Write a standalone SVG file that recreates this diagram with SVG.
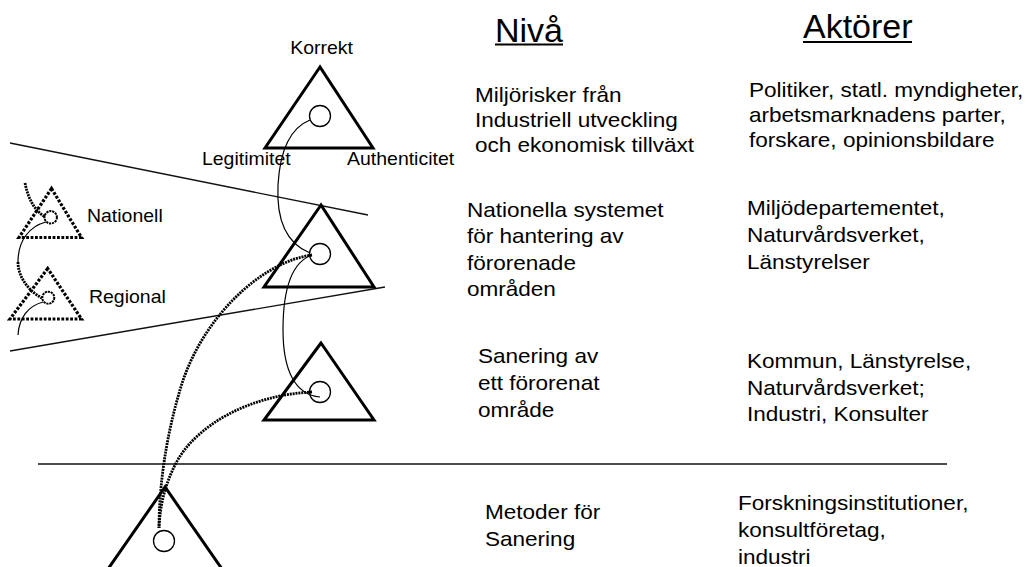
<svg xmlns="http://www.w3.org/2000/svg" width="1029" height="567" viewBox="0 0 1029 567">
  <style>
    .tri { fill: none; stroke: #000; stroke-width: 3; stroke-linejoin: miter; }
    .tri-dot { fill: none; stroke: #000; stroke-width: 3.2; stroke-dasharray: 2.8 1.6; }
    .ring { fill: #fff; stroke: #000; stroke-width: 1.3; }
    .ring-dot { fill: #fff; stroke: #000; stroke-width: 2; stroke-dasharray: 2.2 0.8; }
    .thin { fill: none; stroke: #000; stroke-width: 1.2; }
    .dots { fill: none; stroke: #000; stroke-width: 2.8; stroke-dasharray: 2 0.9; }
    .rule { fill: none; stroke: #111; stroke-width: 1.3; }
    .t { font-family: "Liberation Sans", Arial, sans-serif; fill: #000; }
    .body { font-size: 20.5px; }
    .small { font-size: 17.7px; }
    .head { font-family: "Liberation Sans", Arial, sans-serif; font-size: 34px; fill: #000; }
  </style>

  <!-- level boundaries -->
  <g id="rules">
    <line class="rule" x1="10" y1="143" x2="368" y2="215"/>
    <line class="rule" x1="10" y1="351" x2="385" y2="287"/>
    <line class="rule" x1="38" y1="464" x2="947" y2="464"/>
  </g>

  <!-- headings -->
  <g id="headings">
    <text class="head" x="495" y="41.5">Nivå</text>
    <line x1="495" y1="44.5" x2="563" y2="44.5" stroke="#000" stroke-width="2"/>
    <text class="head" x="803" y="38">Aktörer</text>
    <line x1="803" y1="42" x2="912" y2="42" stroke="#000" stroke-width="2"/>
  </g>

  <!-- triangles -->
  <g id="node-top">
    <polygon class="tri" points="320,67 265,148 373,148"/>
    <circle class="ring" cx="320" cy="116" r="10.5"/>
  </g>
  <g id="node-national">
    <polygon class="tri" points="321,205 264,287 374,287"/>
    <circle class="ring" cx="320" cy="254" r="10.5"/>
  </g>
  <g id="node-site">
    <polygon class="tri" points="321,343 264,420 374,420"/>
    <circle class="ring" cx="320" cy="392" r="10.5"/>
  </g>
  <g id="node-methods">
    <polygon class="tri" points="165,487 108,569 222,569"/>
    <circle class="ring" cx="164" cy="541" r="10.5"/>
  </g>
  <g id="node-nationell">
    <polygon class="tri-dot" points="51.5,188.5 19,237.5 81.5,237.5"/>
    <circle class="ring-dot" cx="50.7" cy="217.3" r="6.2"/>
  </g>
  <g id="node-regional">
    <polygon class="tri-dot" points="47.7,268.5 10,319 81.5,319"/>
    <circle class="ring-dot" cx="48.3" cy="297.7" r="6"/>
  </g>

  <!-- connectors -->
  <g id="connectors">
    <path class="thin" d="M310,120 C290,128 280,150 278,185 C276,225 290,245 310,253"/>
    <path class="thin" d="M312,255 C292,262 283,290 283,330 C283,370 295,395 320,397"/>
    <path class="dots" d="M312,255 C260,262 200,320 180,390 C165,440 159,490 159,528"/>
    <path class="dots" d="M312,392 C250,395 195,425 175,465 C165,485 160,505 159,528"/>
    <path class="dots" d="M25,183 C28,198 34,210 45,217"/>
    <path class="thin" d="M46,222 C30,226 18,240 18,262"/>
    <path class="dots" d="M18,262 C18,278 30,292 42,298"/>
    <path class="thin" d="M43,302 C28,306 19,318 18,335"/>
  </g>

  <!-- labels (slightly widened type) -->
  <g id="labels" class="t" transform="scale(1.1 1)">
    <text class="small" x="292.3" y="54" text-anchor="middle">Korrekt</text>
    <text class="small" x="183.6" y="165">Legitimitet</text>
    <text class="small" x="315.5" y="165">Authenticitet</text>
    <text class="small" x="79.1" y="222">Nationell</text>
    <text class="small" x="80.9" y="303">Regional</text>

    <text class="body" x="431.8" y="102">Miljörisker från</text>
    <text class="body" x="431.8" y="127">Industriell utveckling</text>
    <text class="body" x="431.8" y="152">och ekonomisk tillväxt</text>

    <text class="body" x="680.9" y="97">Politiker, statl. myndigheter,</text>
    <text class="body" x="680.9" y="122">arbetsmarknadens parter,</text>
    <text class="body" x="680.9" y="147">forskare, opinionsbildare</text>

    <text class="body" x="424.5" y="217">Nationella systemet</text>
    <text class="body" x="424.5" y="243.5">för hantering av</text>
    <text class="body" x="424.5" y="270">förorenade</text>
    <text class="body" x="424.5" y="296.5">områden</text>

    <text class="body" x="679.1" y="215">Miljödepartementet,</text>
    <text class="body" x="679.1" y="242">Naturvårdsverket,</text>
    <text class="body" x="679.1" y="269">Länstyrelser</text>

    <text class="body" x="434.5" y="363.5">Sanering av</text>
    <text class="body" x="434.5" y="390.5">ett förorenat</text>
    <text class="body" x="434.5" y="417">område</text>

    <text class="body" x="679.1" y="368">Kommun, Länstyrelse,</text>
    <text class="body" x="679.1" y="395">Naturvårdsverket;</text>
    <text class="body" x="679.1" y="421.5">Industri, Konsulter</text>

    <text class="body" x="440.9" y="519">Metoder för</text>
    <text class="body" x="440.9" y="546">Sanering</text>

    <text class="body" x="670.9" y="510">Forskningsinstitutioner,</text>
    <text class="body" x="670.9" y="537">konsultföretag,</text>
    <text class="body" x="670.9" y="564">industri</text>
  </g>
</svg>
